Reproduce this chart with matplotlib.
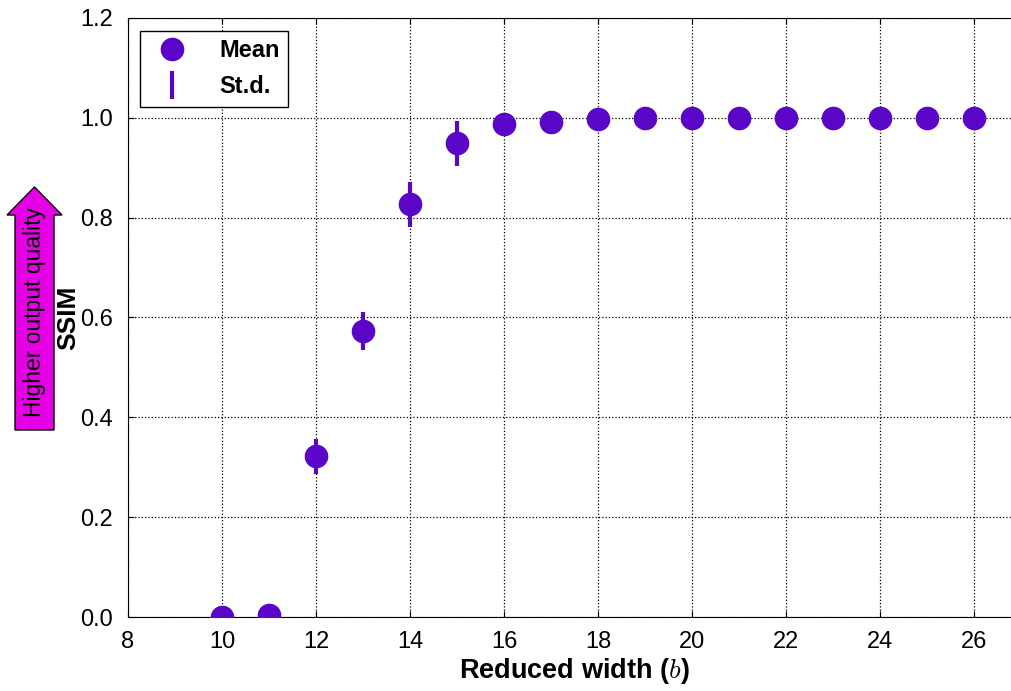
import matplotlib
matplotlib.use("Agg")
import matplotlib.pyplot as plt
from matplotlib.lines import Line2D
from matplotlib.patches import FancyArrow
from matplotlib.transforms import IdentityTransform

plt.rcParams['font.family'] = ['Liberation Sans', 'DejaVu Sans']
plt.rcParams['mathtext.fontset'] = 'cm'

widths = [10, 11, 12, 13, 14, 15, 16, 17, 18, 19, 20, 21, 22, 23, 24, 25, 26]
ssim_mean = [0.0, 0.005, 0.322, 0.573, 0.827, 0.949, 0.988, 0.991, 0.997, 0.999,
             1.0, 1.0, 1.0, 1.0, 1.0, 1.0, 1.0]
ssim_std = [0.0, 0.0, 0.035, 0.038, 0.045, 0.045, 0.012, 0.006, 0.003, 0.001,
            0.0, 0.0, 0.0, 0.0, 0.0, 0.0, 0.0]
xticks = [8, 10, 12, 14, 16, 18, 20, 22, 24, 26]
yticks = [0.0, 0.2, 0.4, 0.6, 0.8, 1.0, 1.2]

color = '#5a05c8'

W, H = 1011, 691
fig = plt.figure(figsize=(W / 100, H / 100), dpi=100)
ax = fig.add_axes([128 / W, (H - 617) / H, 893 / W, 599 / H])

ax.errorbar(widths, ssim_mean, yerr=ssim_std, fmt='none', ecolor=color,
            elinewidth=3, capsize=0, zorder=3)
ax.plot(widths, ssim_mean, 'o', color=color, markersize=16, zorder=4,
        clip_on=True)

ax.set_xlim(8, 27)
ax.set_ylim(0, 1.2)
ax.set_xticks(xticks)
ax.set_yticks(yticks)
ax.set_yticklabels([f'{v:.1f}' for v in yticks])
ax.tick_params(labelsize=17, direction='in', top=True, right=False, length=4)
ax.tick_params(axis='x', pad=10)
ax.tick_params(axis='y', pad=11)
ax.spines['right'].set_visible(False)
ax.grid(True, linestyle=':', color='black', linewidth=0.9)
ax.set_axisbelow(True)

ax.set_xlabel(r'Reduced width ($b$)', fontsize=19.5, fontweight='bold', labelpad=2)
ax.set_ylabel('SSIM', fontsize=19, fontweight='bold')
ax.yaxis.set_label_coords((80 - 128) / 893, 0.5)

handles = [Line2D([], [], marker='o', linestyle='none', color=color, markersize=16),
           Line2D([], [], marker='|', linestyle='none', color=color, markersize=20,
                  markeredgewidth=3)]
leg = ax.legend(handles, ['Mean', 'St.d.'], loc='upper left', fancybox=False,
                framealpha=1, edgecolor='black', prop={'weight': 'bold', 'size': 17},
                handletextpad=1.0, borderpad=0.35, labelspacing=0.55,
                borderaxespad=0, bbox_to_anchor=(12 / 893, (617 - 31) / 599))
leg.get_frame().set_linewidth(1.0)

arrow = FancyArrow(34.5, H - 430, 0, 243, width=39, head_width=55, head_length=28,
                   length_includes_head=True, facecolor='#e600e6', edgecolor='black',
                   linewidth=1, transform=IdentityTransform())
fig.add_artist(arrow)
fig.text(35 / W, (H - 312) / H, 'Higher output quality', rotation=90,
         ha='center', va='center', fontsize=16.5)

fig.savefig('out.png', dpi=100)
